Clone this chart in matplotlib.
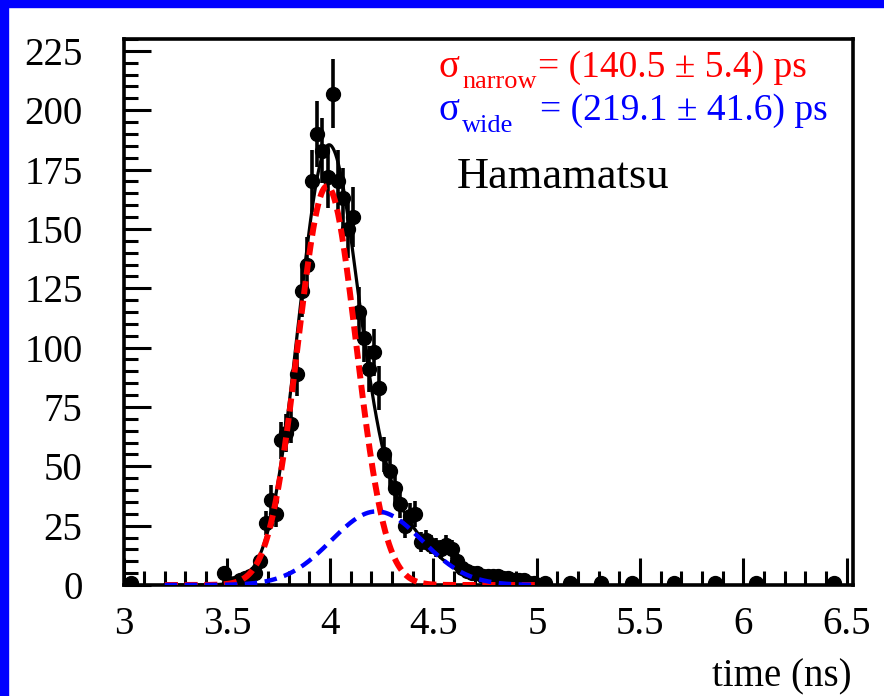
import matplotlib
matplotlib.use('Agg')
import matplotlib.pyplot as plt
import numpy as np
from matplotlib.ticker import MultipleLocator, FixedLocator
from matplotlib.patches import Rectangle

plt.rcParams['font.family'] = ['Liberation Serif', 'DejaVu Serif']

# ---------------- data ----------------
hist_min = 3.0
bin_width = 0.025
counts = [
    0, 1, 0, 0, 0, 0, 0, 0, 0, 0,
    0, 0, 0, 0, 0, 0, 0, 0, 0, 5,
    1, 1, 2, 3, 4, 5, 10, 26, 36, 30,
    61, 64, 68, 89, 124, 135, 170, 190, 183, 172,
    207, 170, 163, 150, 155, 115, 104, 91, 98, 83,
    55, 48, 41, 34, 25, 29, 30, 18, 19, 17,
    16, 15, 17, 15, 10, 7, 6, 5, 5, 4,
    4, 4, 4, 3, 3, 2, 2, 2, 1, 1,
    0, 1, 0, 0, 0, 0, 1, 0, 0, 0,
    0, 0, 1, 0, 0, 0, 0, 0, 1, 0,
    0, 0, 0, 0, 0, 0, 1, 0, 0, 0,
    0, 0, 0, 0, 1, 0, 0, 0, 0, 0,
    0, 0, 1, 0, 0, 0, 0, 0, 0, 0,
    0, 0, 0, 0, 0, 0, 0, 1, 0, 0,
]

# fit results (double Gaussian)
narrow_amp, narrow_mean, narrow_sigma = 168.0, 3.985, 0.1405
wide_amp, wide_mean, wide_sigma = 31.0, 4.225, 0.2191
fit_range = (3.2, 5.0)

narrow_label = "= (140.5 \u00b1 5.4) ps"
wide_label = "= (219.1 \u00b1 41.6) ps"
detector_label = "Hamamatsu"
x_label = "time (ns)"

# ---------------- figure ----------------
W, H = 884, 696
fig = plt.figure(figsize=(W / 100, H / 100), dpi=100)
fig.patch.set_facecolor('white')

# blue canvas border (top and left)
fig.patches.append(Rectangle((0, 1 - 7 / H), 1, 7 / H, transform=fig.transFigure,
                             color='#0000ff', zorder=0))
fig.patches.append(Rectangle((0, 0), 8 / W, 1, transform=fig.transFigure,
                             color='#0000ff', zorder=0))

ax_l, ax_r, ax_t, ax_b = 123.5, 853, 39, 585
ax = fig.add_axes([ax_l / W, (H - ax_b) / H, (ax_r - ax_l) / W, (ax_b - ax_t) / H])

counts = np.array(counts, dtype=float)
centers = hist_min + bin_width * (np.arange(len(counts)) + 0.5)
mask = counts > 0
ax.errorbar(centers[mask], counts[mask], yerr=np.sqrt(counts[mask]), fmt='o',
            color='black', markersize=10, elinewidth=2.6, capsize=0, zorder=2,
            clip_on=True)

xf = np.linspace(fit_range[0], fit_range[1], 600)
g_n = narrow_amp * np.exp(-0.5 * ((xf - narrow_mean) / narrow_sigma) ** 2)
g_w = wide_amp * np.exp(-0.5 * ((xf - wide_mean) / wide_sigma) ** 2)
ax.plot(xf, g_n + g_w, color='black', lw=2.3, zorder=3)
ax.plot(xf, g_n, color='#ff0000', lw=4.3, dashes=(2.2, 1.1), zorder=4)
ax.plot(xf, g_w, color='#0000ff', lw=3.2, dashes=(2.8, 1.7), zorder=5)

ax.set_xlim(3.0, 6.53)
ax.set_ylim(0, 230)

ax.xaxis.set_major_locator(FixedLocator([3, 3.5, 4, 4.5, 5, 5.5, 6, 6.5]))
ax.xaxis.set_minor_locator(MultipleLocator(0.1))
ax.yaxis.set_major_locator(MultipleLocator(25))
ax.yaxis.set_minor_locator(MultipleLocator(5))
ax.set_xticklabels(['3', '3.5', '4', '4.5', '5', '5.5', '6', '6.5'])

ax.tick_params(axis='both', which='both', direction='in', top=False, right=False,
               width=2.2, labelsize=28)
ax.tick_params(axis='both', which='major', length=19.5)
ax.tick_params(axis='both', which='minor', length=10)
ax.tick_params(axis='y', which='major', pad=29.5)
ax.tick_params(axis='x', which='major', pad=15)
for s in ax.spines.values():
    s.set_linewidth(2.6)

# texts (figure pixel coordinates, measured from top)
def ftext(x, y, s, **kw):
    fig.text(x / W, 1 - y / H, s, va='baseline', ha=kw.pop('ha', 'left'), **kw)

ftext(438, 77, "\u03c3", color='#ff0000', fontsize=28)
ftext(462, 88, "narrow", color='#ff0000', fontsize=19)
ftext(538, 77, narrow_label, color='#ff0000', fontsize=27)
ftext(438, 120, "\u03c3", color='#0000ff', fontsize=28)
ftext(462, 132, "wide", color='#0000ff', fontsize=19)
ftext(540, 120, wide_label, color='#0000ff', fontsize=27)
ftext(457, 188, detector_label, color='black', fontsize=32)
ftext(852, 686, x_label, color='black', fontsize=28, ha='right')

fig.savefig('out.png', dpi=100)
